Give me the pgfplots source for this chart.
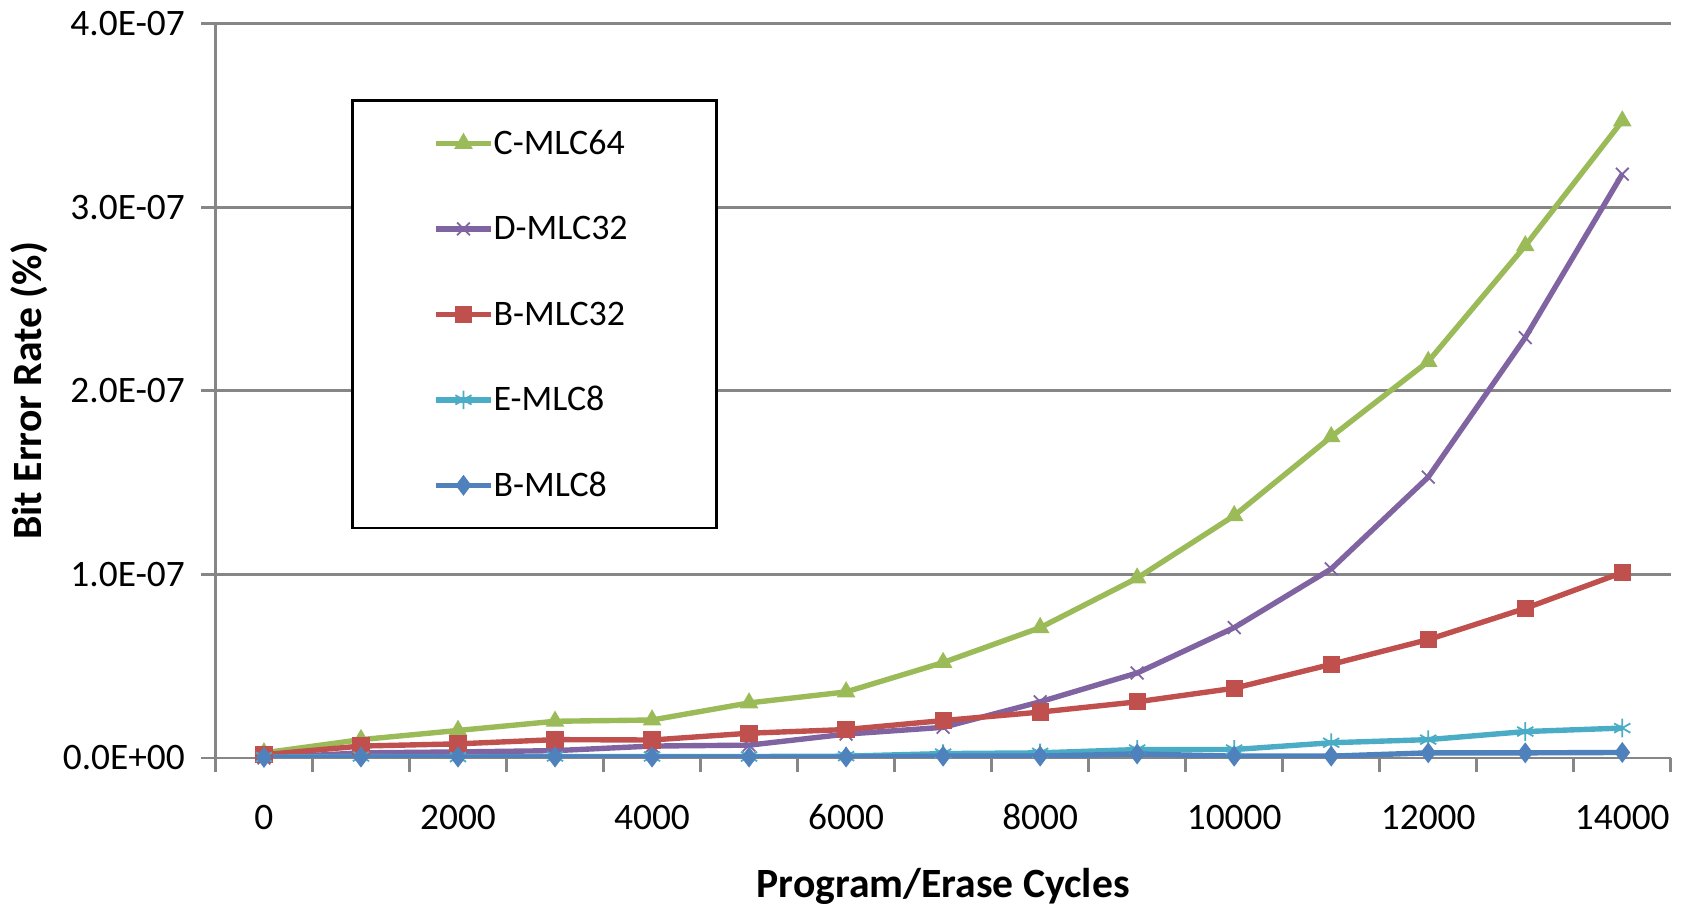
\documentclass[border=0pt]{standalone}
\usepackage{fontspec}
\setmainfont{Carlito}
\usepackage{pgfplots}
\pgfplotsset{compat=1.18}
\usepackage{pgfplotstable}
\usetikzlibrary{calc}

\definecolor{cgreen}{HTML}{9BBB59}
\definecolor{cpurple}{HTML}{8064A2}
\definecolor{cred}{HTML}{C0504D}
\definecolor{ccyan}{HTML}{4BACC6}
\definecolor{cblue}{HTML}{4F81BD}
\definecolor{axgray}{HTML}{868686}

% bit error rate in units of 1E-07
\pgfplotstableread{
x     C      D      B32    E      B8
0     0.028  0.000  0.018  0.005  0.003
1000  0.100  0.028  0.065  0.008  0.005
2000  0.150  0.033  0.077  0.005  0.005
3000  0.200  0.040  0.100  0.008  0.005
4000  0.207  0.065  0.098  0.008  0.005
5000  0.300  0.070  0.135  0.008  0.005
6000  0.360  0.130  0.155  0.010  0.005
7000  0.520  0.167  0.204  0.024  0.010
8000  0.710  0.306  0.250  0.028  0.010
9000  0.980  0.463  0.306  0.046  0.022
10000 1.320  0.710  0.380  0.046  0.010
11000 1.750  1.030  0.510  0.083  0.010
12000 2.160  1.530  0.645  0.100  0.028
13000 2.790  2.290  0.815  0.144  0.028
14000 3.470  3.180  1.010  0.163  0.030
}\ber

\begin{document}
\begin{tikzpicture}
\begin{axis}[
  name=ax,
  scale only axis,
  width=405.3pt, height=204.5pt,
  xmin=-500, xmax=14500,
  ymin=0, ymax=4,
  scaled x ticks=false, scaled y ticks=false,
  axis x line=bottom, axis y line=left,
  axis line style={-, axgray, line width=0.8pt},
  xtick={0,2000,...,14000},
  xticklabels={0,2000,4000,6000,8000,10000,12000,14000},
  minor xtick={-500,500,...,14500},
  ytick={0,1,2,3,4},
  yticklabels={0.0E+00,1.0E-07,2.0E-07,3.0E-07,4.0E-07},
  major x tick style={draw=none},
  minor x tick style={axgray, line width=0.8pt},
  major y tick style={axgray, line width=0.8pt},
  tick align=outside,
  major tick length=4pt, minor tick length=4pt,
  ymajorgrids,
  major grid style={axgray, line width=0.8pt},
  tick label style={font=\fontsize{10.4}{12}\selectfont},
  xticklabel style={yshift=-5.3pt, text height=7pt, text depth=0pt},
  yticklabel style={xshift=-1pt},
  xlabel={\textbf{Program/Erase Cycles}},
  ylabel={\textbf{Bit Error Rate (\%)}},
  label style={font=\fontsize{11.6}{13}\selectfont},
  xlabel style={at={(0.5,-0.175)}, anchor=center},
  ylabel style={at={(-0.128,0.5)}, anchor=center},
  every axis plot/.append style={line width=1.5pt},
  legend cell align=left,
  legend style={
    at={(0.0932,0.897)}, anchor=north west,
    draw=black, line width=0.8pt,
    inner xsep=22.5pt, inner ysep=8.4pt,
    row sep=16.8pt, column sep=0pt,
    font=\fontsize{10}{12}\selectfont,
    nodes={inner sep=0pt, text height=6.5pt, text depth=0.5pt, text width=39.5pt},
  },
  legend image code/.code={
    \draw[mark repeat=2, mark phase=2] plot coordinates {(0pt,0pt) (7.65pt,0pt) (15.3pt,0pt)};
  },
]
\addplot[cgreen, mark=triangle*, mark size=2.6pt, mark options={solid, line width=0.4pt}] table[x=x, y=C]{\ber};
\addlegendentry{C-MLC64}
\addplot[cpurple, mark=x, mark size=2.5pt, mark options={line width=0.5pt}] table[x=x, y=D]{\ber};
\addlegendentry{D-MLC32}
\addplot[cred, mark=square*, mark size=2.2pt, mark options={line width=0.4pt}] table[x=x, y=B32]{\ber};
\addlegendentry{B-MLC32}
\addplot[ccyan, mark=asterisk, mark size=2.6pt, mark options={line width=0.5pt}] table[x=x, y=E]{\ber};
\addlegendentry{E-MLC8}
\addplot[cblue, mark=diamond*, mark size=2.6pt, mark options={line width=0.4pt}] table[x=x, y=B8]{\ber};
\addlegendentry{B-MLC8}
\end{axis}
\pgfresetboundingbox
\path ($(ax.south west)+(-60pt,-41.7pt)$) rectangle ($(ax.north east)+(4.8pt,6.6pt)$);
\end{tikzpicture}
\end{document}
